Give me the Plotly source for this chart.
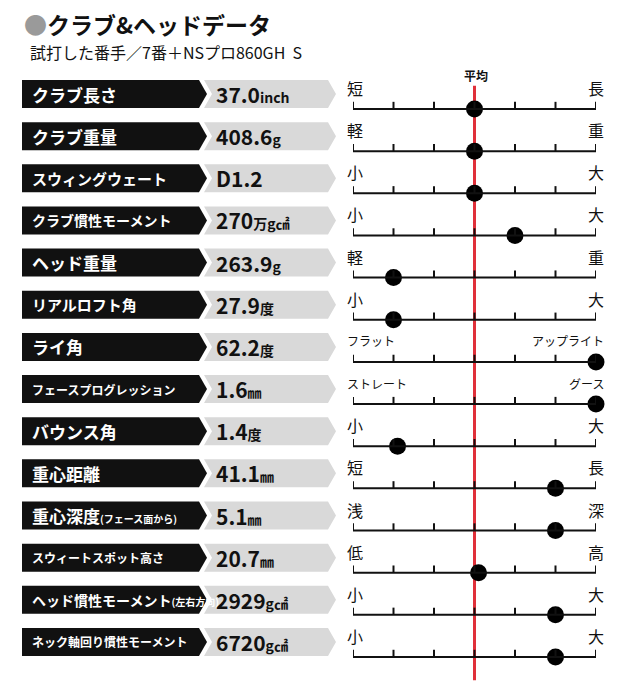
import plotly.graph_objects as go

items = ["クラブ長さ", "クラブ重量", "スウィングウェート", "クラブ慣性モーメント", "ヘッド重量", "リアルロフト角", "ライ角",
         "フェースプログレッション", "バウンス角", "重心距離", "重心深度<span style='font-size:10px'>(フェース面から)</span>",
         "スウィートスポット高さ", "ヘッド慣性モーメント<span style='font-size:10px'>(左右方向)</span>", "ネック軸回り慣性モーメント"]
nums = ["37.0", "408.6", "D1.2", "270", "263.9", "27.9", "62.2", "1.6", "1.4", "41.1", "5.1", "20.7", "2929", "6720"]
units = ["inch", "g", "", "万g㎠", "g", "度", "度", "㎜", "度", "㎜", "㎜", "㎜", "g㎠", "g㎠"]
left_labels = ["短", "軽", "小", "小", "軽", "小", "フラット", "ストレート", "小", "短", "浅", "低", "小", "小"]
right_labels = ["長", "重", "大", "大", "重", "大", "アップライト", "グース", "大", "長", "深", "高", "大", "大"]
scores = [0, 0, 0, 1, -2, -2, 3, 3, -1.9, 2, 2, 0.1, 2, 2]

F = "Noto Sans CJK JP"
W, H = 640, 687
OFF = 8  # page body margin compensation
rows = list(range(len(items)))
fig = go.Figure()
shapes, ann = [], []
for i in rows:
    c = 94 + 42.15 * i
    y0, y1 = c - 14, c + 14
    shapes.append(dict(type="path", xref="x", yref="y", fillcolor="#111", line_width=0,
                       path=f"M22,{y0} L199,{y0} L207,{c} L199,{y1} L22,{y1} Z"))
    shapes.append(dict(type="path", xref="x", yref="y", fillcolor="#d9d9d9", line_width=0,
                       path=f"M204,{y0} L328,{y0} L336,{c} L328,{y1} L204,{y1} L212,{c} Z"))
    n = len(items[i].split("<")[0])
    size = 17 if n <= 6 else (15 if n <= 9 else (14 if n <= 10 else 12))
    ann.append(dict(x=30, y=c, xref="x", yref="y", text=f"<b>{items[i]}</b>", showarrow=False,
                    xanchor="left", font=dict(family=F, size=size, color="white")))
    ann.append(dict(x=214, y=c, xref="x", yref="y",
                    text=f"<b>{nums[i]}<span style='font-size:14px'>{units[i]}</span></b>", showarrow=False,
                    xanchor="left", font=dict(family=F, size=21, color="#111")))
    ly = c - 6
    ann.append(dict(x=345, y=ly, xref="x", yref="y", text=left_labels[i], showarrow=False,
                    xanchor="left", font=dict(family=F, size=16 if len(left_labels[i]) == 1 else 12, color="#111")))
    ann.append(dict(x=606, y=ly, xref="x", yref="y", text=right_labels[i], showarrow=False,
                    xanchor="right", font=dict(family=F, size=16 if len(right_labels[i]) == 1 else 12, color="#111")))
    shapes.append(dict(type="line", xref="x2", yref="y2", x0=-3, x1=3, y0=i, y1=i, line=dict(color="#111", width=2)))
    for t in range(-3, 4):
        shapes.append(dict(type="line", xref="x2", yref="y2", x0=t, x1=t, y0=i, y1=i - 0.17,
                           line=dict(color="#111", width=2)))

shapes.append(dict(type="line", xref="x2", yref="y2", x0=0, x1=0, y0=-0.55, y1=13.55,
                   line=dict(color="#e0303a", width=3), layer="below"))
ann.append(dict(x=476, y=75, xref="x", yref="y", text="<b>平均</b>", showarrow=False,
                font=dict(family=F, size=12, color="#111")))
ann.append(dict(x=22, y=24, xref="x", yref="y", showarrow=False, xanchor="left",
                text="<span style='color:#9a9a9a'>●</span><b>クラブ&ヘッドデータ</b>",
                font=dict(family=F, size=23, color="#111")))
ann.append(dict(x=28, y=52, xref="x", yref="y", showarrow=False, xanchor="left",
                text="試打した番手／7番＋NSプロ860GH  S", font=dict(family=F, size=16, color="#111")))

fig.add_trace(go.Scatter(x=scores, y=rows, xaxis="x2", yaxis="y2", mode="markers",
                         marker=dict(size=17, color="#000"), hoverinfo="skip", cliponaxis=False))
y2top = -(109 - OFF) / 42.15
y2bot = (H - (109 - OFF)) / 42.15
fig.update_layout(
    width=W, height=H, margin=dict(l=0, r=0, t=0, b=0), paper_bgcolor="white", plot_bgcolor="white",
    showlegend=False, shapes=shapes, annotations=ann,
    xaxis=dict(range=[OFF, W + OFF], visible=False, domain=[0, 1]),
    yaxis=dict(range=[H + OFF, OFF], visible=False, domain=[0, 1]),
    xaxis2=dict(range=[-3, 3], domain=[(353 - OFF) / W, (596 - OFF) / W], visible=False, anchor="y2"),
    yaxis2=dict(range=[y2bot, y2top], domain=[0, 1], visible=False, anchor="x2", overlaying="y"),
)
fig.write_html("out.html")
